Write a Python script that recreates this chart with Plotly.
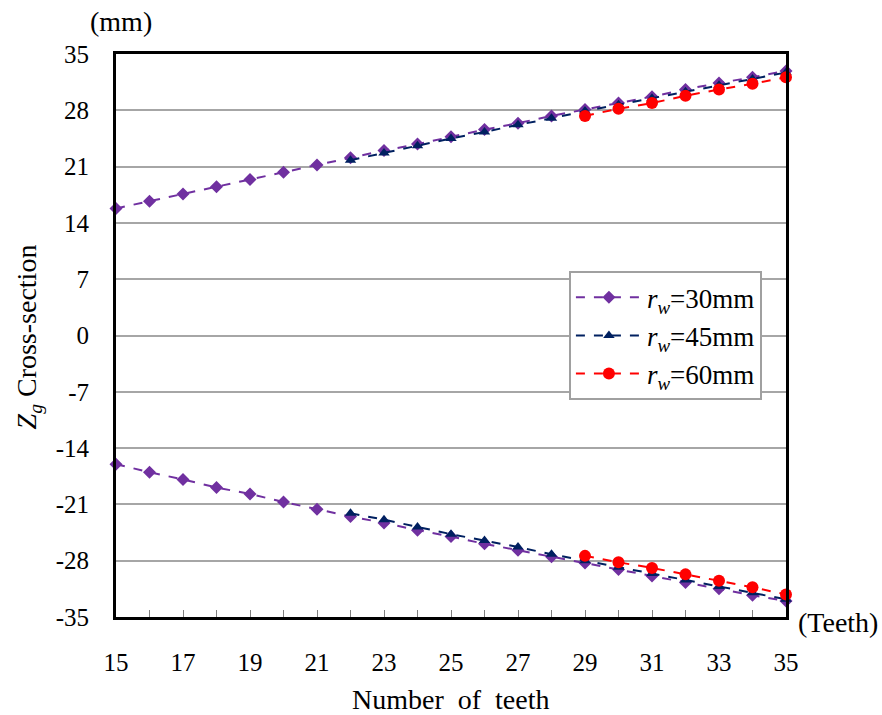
import plotly.graph_objects as go

teeth_30 = list(range(15, 36))
teeth_45 = list(range(22, 36))
teeth_60 = list(range(29, 36))

rw30_upper = [15.8, 16.7, 17.6, 18.5, 19.4, 20.3, 21.2, 22.1, 23.0, 23.8, 24.7,
              25.6, 26.4, 27.3, 28.1, 28.9, 29.7, 30.6, 31.4, 32.1, 32.9]
rw30_lower = [-16.0, -17.0, -17.9, -18.9, -19.7, -20.7, -21.6, -22.5, -23.3, -24.2, -25.0,
              -25.9, -26.7, -27.5, -28.3, -29.1, -29.9, -30.7, -31.5, -32.3, -33.0]
rw45_upper = [21.8, 22.7, 23.6, 24.5, 25.3, 26.2, 27.0, 27.9, 28.7, 29.5, 30.3, 31.1, 31.9, 32.7]
rw45_lower = [-22.1, -22.9, -23.8, -24.7, -25.5, -26.3, -27.2, -28.0, -28.8, -29.6, -30.4, -31.2, -32.0, -32.8]
rw60_upper = [27.3, 28.2, 28.9, 29.8, 30.6, 31.3, 32.1]
rw60_lower = [-27.4, -28.2, -28.9, -29.7, -30.5, -31.3, -32.2]

y_ticks = [-35, -28, -21, -14, -7, 0, 7, 14, 21, 28, 35]
y_ticktext = [str(v) for v in y_ticks]  # hyphen minus as in reference
x_ticks = list(range(15, 36))
x_ticktext = [str(v) if v % 2 == 1 else "" for v in x_ticks]

series = [
    ("<i>r<sub>w</sub></i>=30mm", teeth_30, rw30_upper, rw30_lower, "#7030A0", "diamond", 10),
    ("<i>r<sub>w</sub></i>=45mm", teeth_45, rw45_upper, rw45_lower, "#002060", "triangle-up", 10),
    ("<i>r<sub>w</sub></i>=60mm", teeth_60, rw60_upper, rw60_lower, "#FF0000", "circle", 12),
]

fig = go.Figure()
for name, xs, up, lo, color, sym, size in series:
    for i, ys in enumerate((up, lo)):
        fig.add_trace(go.Scatter(
            x=xs, y=ys, name=name, legendgroup=name, showlegend=(i == 0),
            mode="lines+markers",
            line=dict(color=color, width=2, dash="dash"),
            marker=dict(symbol=sym, size=size, color=color),
            cliponaxis=False,
        ))

font_family = "Liberation Serif, Times New Roman, serif"

fig.update_layout(
    width=882, height=715,
    margin=dict(l=116, r=96, t=54, b=98, autoexpand=False),
    plot_bgcolor="white", paper_bgcolor="white",
    font=dict(family=font_family, size=25, color="black"),
    showlegend=True,
    legend=dict(
        x=0.676, y=0.614, xanchor="left", yanchor="top",
        bgcolor="white", bordercolor="#A0A0A0", borderwidth=2,
        font=dict(family=font_family, size=27, color="black"),
        tracegroupgap=0, itemwidth=66,
    ),
    xaxis=dict(
        range=[15, 35], tickvals=x_ticks, ticktext=x_ticktext,
        ticks="inside", ticklen=7, tickcolor="#808080", tickwidth=1,
        showgrid=False, zeroline=False, automargin=False,
        showline=True, linecolor="black", linewidth=3, mirror=True,
        ticklabelstandoff=21,
        tickfont=dict(size=25),
    ),
    yaxis=dict(
        range=[-35, 35], tickvals=y_ticks, ticktext=y_ticktext,
        ticks="", showgrid=True, gridcolor="#A6A6A6", gridwidth=1.5,
        zeroline=False, automargin=False,
        showline=True, linecolor="black", linewidth=3, mirror=True,
        ticklabelstandoff=19,
        tickfont=dict(size=25),
    ),
    annotations=[
        dict(text="<i>Z<sub>g</sub></i> Cross-section", textangle=-90,
             x=-0.131, y=0.497, xref="paper", yref="paper",
             xanchor="center", yanchor="middle", showarrow=False,
             font=dict(size=28)),
        dict(text="Number  of  teeth", x=0.5, y=-0.147, xref="paper", yref="paper",
             xanchor="center", yanchor="middle", showarrow=False,
             font=dict(size=28)),
        dict(text="(mm)", x=0.0075, y=1.057, xref="paper", yref="paper",
             xanchor="center", yanchor="middle",
             showarrow=False, font=dict(size=28)),
        dict(text="(Teeth)", x=1.0, y=-0.009, xref="paper", yref="paper",
             xanchor="left", yanchor="middle", xshift=10,
             showarrow=False, font=dict(size=28)),
    ],
)

# remove the default 8px page margin so the figure fills the window exactly
fig.write_html("out.html",
               config={"displayModeBar": False},
               post_script="document.body.style.margin='0';document.body.style.overflow='hidden';")
